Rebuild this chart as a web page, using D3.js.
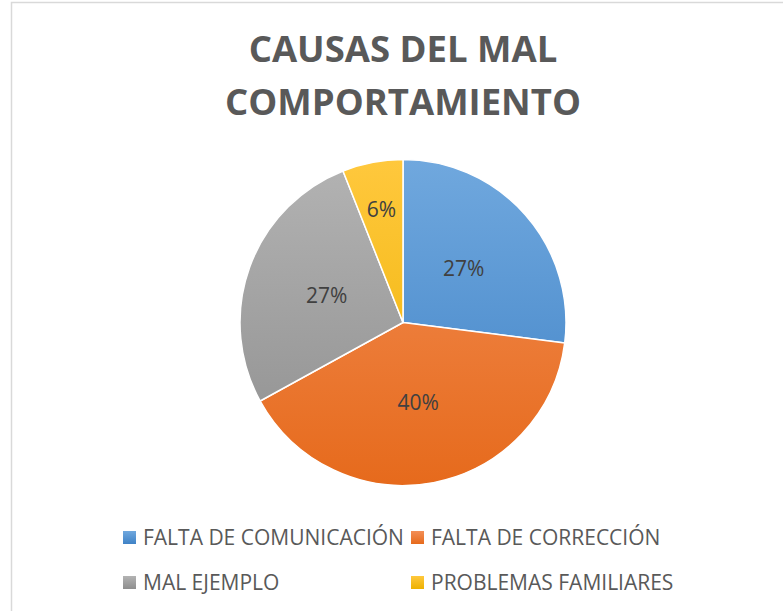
<!DOCTYPE html>
<html>
<head>
<meta charset="utf-8">
<script src="https://cdn.jsdelivr.net/npm/d3@7"></script>
<style>
  body { margin: 0; background: #fff; }
  svg { display: block; }
</style>
</head>
<body>
<div id="chart"></div>
<script>
// datos del grafico
const titulo = ["CAUSAS DEL MAL", "COMPORTAMIENTO"]
const causas = ["FALTA DE COMUNICACIÓN", "FALTA DE CORRECCIÓN", "MAL EJEMPLO", "PROBLEMAS FAMILIARES"]
const porcentajes = [27, 40, 27, 6]

// colores (arriba / abajo del degradado)
const colorTop = ["#70a8de", "#f38f57", "#b3b3b3", "#ffc83d"]
const colorBottom = ["#3f82c6", "#e66a1c", "#8e8e8e", "#edb100"]

let width = 783
let height = 611
let cx = 403
let cy = 322.5
let radio = 163

var svg = d3.select("#chart").append("svg")
  .attr("width", width)
  .attr("height", height)

// borde del grafico
svg.append("rect")
  .attr("x", 11.5)
  .attr("y", 2.5)
  .attr("width", width + 20)
  .attr("height", height + 20)
  .attr("fill", "white")
  .attr("stroke", "#d9d9d9")
  .attr("stroke-width", 1.5)

let defs = svg.append("defs")
causas.forEach((c, i) => {
  let g = defs.append("linearGradient")
    .attr("id", "grad" + i)
    .attr("gradientUnits", "userSpaceOnUse")
    .attr("x1", 0).attr("y1", -radio)
    .attr("x2", 0).attr("y2", radio)
  g.append("stop").attr("offset", "0%").attr("stop-color", colorTop[i])
  g.append("stop").attr("offset", "100%").attr("stop-color", colorBottom[i])
})
let legGrad = causas.map((c, i) => {
  let g = defs.append("linearGradient")
    .attr("id", "leg" + i)
    .attr("x1", 0).attr("y1", 0)
    .attr("x2", 0).attr("y2", 1)
  g.append("stop").attr("offset", "0%").attr("stop-color", colorTop[i])
  g.append("stop").attr("offset", "100%").attr("stop-color", colorBottom[i])
  return "url(#leg" + i + ")"
})

// titulo
svg.append("text")
  .attr("x", cx)
  .attr("y", 62)
  .attr("text-anchor", "middle")
  .style("font-family", "'Open Sans', sans-serif")
  .style("font-weight", "bold")
  .style("font-size", "36.5px")
  .attr("fill", "#595959")
  .selectAll("tspan")
  .data(titulo)
  .join("tspan")
  .attr("x", cx)
  .attr("dy", (d, i) => i == 0 ? 0 : 53)
  .text(d => d)

// pastel
let pie = d3.pie().sort(null).value(d => d)
let arc = d3.arc().innerRadius(0).outerRadius(radio)
let arcs = pie(porcentajes)

let gPie = svg.append("g").attr("transform", `translate(${cx},${cy})`)

gPie.selectAll("path")
  .data(arcs)
  .join("path")
  .attr("d", arc)
  .attr("fill", (d, i) => "url(#grad" + i + ")")
  .attr("stroke", "white")
  .attr("stroke-width", 1.5)
  .attr("stroke-linejoin", "round")

// etiquetas de porcentaje
gPie.selectAll("text.pct")
  .data(arcs)
  .join("text")
  .attr("class", "pct")
  .attr("transform", d => {
    let r = d.value < 10 ? 115 : 81
    let a = (d.startAngle + d.endAngle) / 2
    return `translate(${Math.sin(a) * r},${-Math.cos(a) * r})`
  })
  .attr("text-anchor", "middle")
  .attr("dy", "0.36em")
  .style("font-family", "'Open Sans', sans-serif")
  .style("font-size", "21px")
  .attr("fill", "#404040")
  .text(d => d.value + "%")

// leyenda
let legX = [123, 411]
let legY = [531, 576]
let leg = svg.append("g")
causas.forEach((c, i) => {
  let x = legX[i % 2]
  let y = legY[Math.floor(i / 2)]
  leg.append("rect")
    .attr("x", x)
    .attr("y", y)
    .attr("width", 13)
    .attr("height", 13)
    .attr("fill", legGrad[i])
  leg.append("text")
    .attr("x", x + 20)
    .attr("y", y + 13.5)
    .style("font-family", "'Open Sans', sans-serif")
    .style("font-size", "21px")
    .attr("fill", "#595959")
    .text(c)
})
</script>
</body>
</html>
